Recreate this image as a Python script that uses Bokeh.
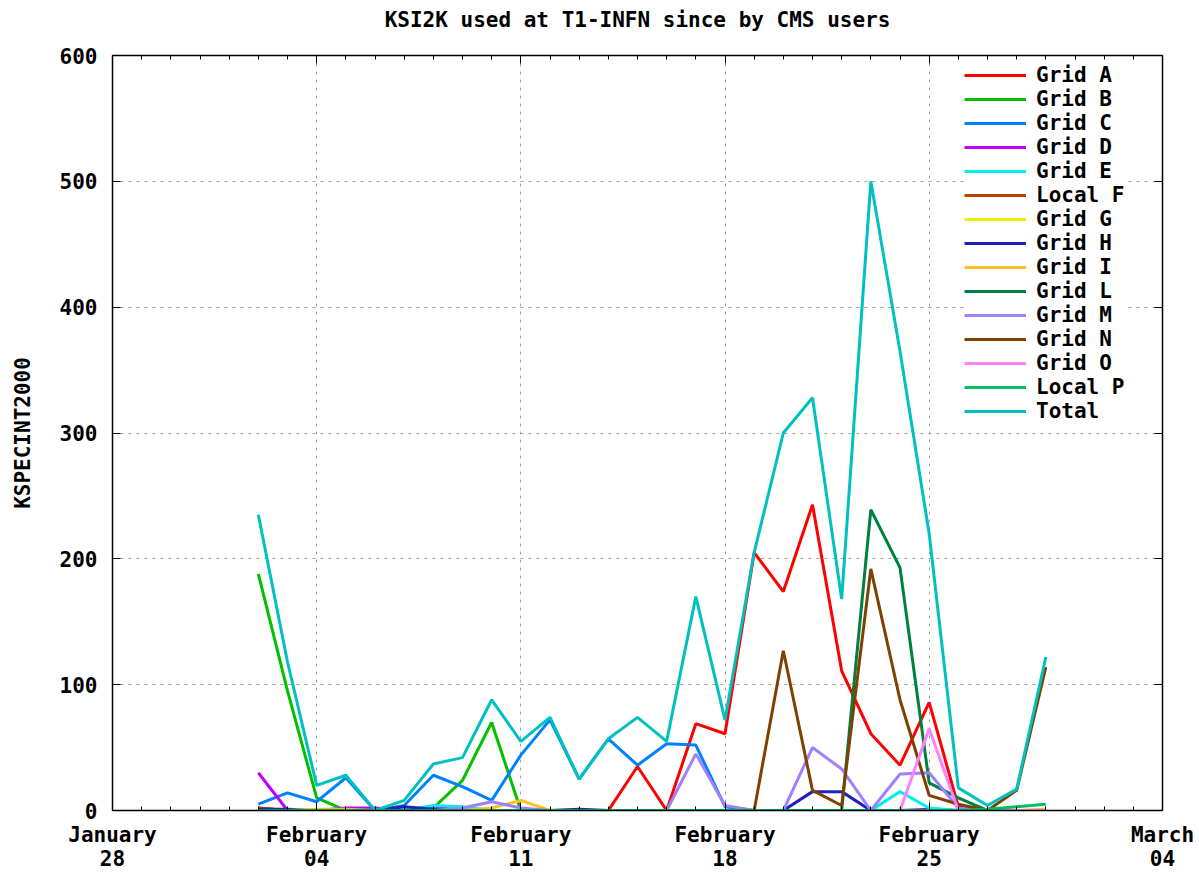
import pandas as pd
from bokeh.plotting import figure
from bokeh.models import (FixedTicker, DatetimeAxis, LinearAxis, DatetimeTickFormatter,
                          Legend, LegendItem, Range1d)
from bokeh.embed import file_html
from bokeh.resources import INLINE

# ---------------- data ----------------
dates = ["2008-02-02", "2008-02-03", "2008-02-04", "2008-02-05", "2008-02-06", "2008-02-07",
         "2008-02-08", "2008-02-09", "2008-02-10", "2008-02-11", "2008-02-12", "2008-02-13",
         "2008-02-14", "2008-02-15", "2008-02-16", "2008-02-17", "2008-02-18", "2008-02-19",
         "2008-02-20", "2008-02-21", "2008-02-22", "2008-02-23", "2008-02-24", "2008-02-25",
         "2008-02-26", "2008-02-27", "2008-02-28", "2008-02-29"]

grid_a = [2, 0, 0, 0, 0, 0, 0, 0, 0, 0, 0, 0, 0, 35, 0, 69, 61, 205, 174, 243, 111, 61, 36, 86, 3, 0, 0, 0]
grid_b = [188, 95, 10, 0, 0, 0, 2, 24, 70, 0, 0, 0, 0, 0, 0, 0, 0, 0, 0, 0, 0, 0, 0, 0, 0, 0, 0, 0]
grid_c = [5, 14, 7, 26, 0, 4, 28, 19, 8, 44, 72, 25, 57, 36, 53, 52, 3, 0, 0, 0, 0, 0, 0, 0, 0, 0, 0, 0]
grid_d = [30, 0, 0, 2, 2, 0, 3, 0, 0, 0, 0, 0, 0, 0, 0, 0, 0, 0, 0, 0, 0, 0, 0, 1, 0, 0, 0, 0]
grid_e = [0, 0, 0, 0, 0, 0, 4, 3, 0, 0, 0, 0, 0, 0, 0, 0, 0, 0, 0, 0, 0, 0, 15, 2, 0, 0, 0, 0]
local_f = [2, 0, 0, 0, 0, 0, 0, 0, 0, 0, 0, 0, 0, 0, 0, 0, 0, 0, 0, 0, 0, 0, 0, 0, 0, 0, 0, 0]
grid_g = [0, 0, 0, 0, 0, 0, 0, 0, 0, 0, 0, 0, 0, 0, 0, 0, 0, 0, 0, 0, 0, 0, 0, 0, 0, 0, 0, 0]
grid_h = [1, 1, 0, 0, 0, 3, 1, 0, 0, 0, 0, 1, 0, 0, 0, 0, 0, 0, 0, 15, 15, 0, 0, 0, 0, 0, 0, 0]
grid_i = [0, 0, 1, 1, 0, 0, 0, 0, 2, 8, 0, 0, 0, 0, 0, 0, 0, 0, 0, 0, 0, 0, 0, 0, 0, 0, 0, 1]
grid_l = [0, 0, 0, 0, 0, 0, 0, 0, 0, 0, 0, 0, 0, 0, 0, 0, 0, 0, 0, 0, 0, 239, 193, 22, 10, 0, 0, 0]
grid_m = [0, 0, 0, 0, 0, 0, 0, 2, 7, 2, 0, 0, 0, 0, 0, 45, 4, 0, 0, 50, 33, 0, 29, 30, 2, 0, 0, 0]
grid_n = [0, 0, 0, 0, 0, 0, 0, 0, 0, 0, 0, 0, 0, 0, 0, 0, 0, 0, 127, 16, 4, 192, 88, 12, 5, 0, 16, 114]
grid_o = [0, 0, 0, 0, 0, 0, 0, 0, 0, 0, 0, 0, 0, 0, 0, 0, 0, 0, 0, 0, 0, 0, 0, 65, 0, 0, 0, 0]
local_p = [0, 0, 0, 0, 0, 0, 0, 0, 0, 0, 0, 0, 0, 0, 0, 0, 0, 0, 0, 0, 0, 0, 0, 0, 0, 1, 3, 5]
total = [235, 118, 20, 28, 0, 8, 37, 42, 88, 55, 74, 25, 57, 74, 55, 170, 72, 205, 300, 328, 168,
         500, 365, 220, 18, 4, 17, 122]

series_names = ["Grid A", "Grid B", "Grid C", "Grid D", "Grid E", "Local F", "Grid G", "Grid H",
                "Grid I", "Grid L", "Grid M", "Grid N", "Grid O", "Local P", "Total"]
series_values = [grid_a, grid_b, grid_c, grid_d, grid_e, local_f, grid_g, grid_h,
                 grid_i, grid_l, grid_m, grid_n, grid_o, local_p, total]
series_colors = ["#ff0000", "#00c000", "#0080ff", "#c000ff", "#00eeee", "#c04000", "#eeee00",
                 "#2020c0", "#ffc020", "#008040", "#a080ff", "#804000", "#ff80ff", "#00c060",
                 "#00c0c0"]

week_ticks = ["2008-01-28", "2008-02-04", "2008-02-11", "2008-02-18", "2008-02-25", "2008-03-04"]
y_ticks = [0, 100, 200, 300, 400, 500, 600]

title_text = "KSI2K used at T1-INFN since by CMS users"
y_label = "KSPECINT2000"

# ---------------- plot ----------------
FONT = "DejaVu Sans Mono"
FS = "21px"

x_dates = pd.to_datetime(dates)
major_ms = [pd.Timestamp(s).value // 10**6 for s in week_ticks]
minor_ms = [d.value // 10**6 for d in pd.date_range(week_ticks[0], week_ticks[-1], freq="D")]

p = figure(width=1199, height=873, x_axis_type="datetime",
           x_range=Range1d(pd.Timestamp(week_ticks[0]), pd.Timestamp(week_ticks[-1])),
           y_range=Range1d(y_ticks[0], y_ticks[-1]),
           output_backend="svg", toolbar_location=None,
           min_border_left=112, min_border_right=37, min_border_top=55, min_border_bottom=61)

p.outline_line_color = "black"
p.background_fill_color = "white"
p.border_fill_color = "white"

# trailing blank line lifts the single visible title line towards the top edge
p.title.text = title_text + "\n "
p.title.align = "center"
p.title.text_font = FONT
p.title.text_font_style = "bold"
p.title.text_font_size = FS
p.title.text_color = "black"
p.title.text_line_height = 1.0
p.title.standoff = 0

fmt_str = "%B\n%d"
fmt = DatetimeTickFormatter(microseconds=fmt_str, milliseconds=fmt_str, seconds=fmt_str,
                            minsec=fmt_str, minutes=fmt_str, hourmin=fmt_str, hours=fmt_str,
                            days=fmt_str, months=fmt_str, years=fmt_str,
                            strip_leading_zeros=False)
xticker = FixedTicker(ticks=major_ms, minor_ticks=minor_ms)
yticker = FixedTicker(ticks=y_ticks)


def style_axis(ax):
    ax.axis_line_color = "black"
    ax.axis_line_width = 1.5
    ax.major_tick_in = 8
    ax.major_tick_out = 0
    ax.minor_tick_in = 4
    ax.minor_tick_out = 0
    ax.major_tick_line_color = "black"
    ax.minor_tick_line_color = "black"
    ax.major_label_text_font = FONT
    ax.major_label_text_font_style = "bold"
    ax.major_label_text_color = "black"
    ax.major_label_text_font_size = FS


xb = p.xaxis[0]
xb.ticker = xticker
xb.formatter = fmt
style_axis(xb)
xb.major_label_standoff = 12
xb.major_label_text_line_height = 1.0

yl = p.yaxis[0]
yl.ticker = yticker
style_axis(yl)
yl.minor_tick_line_color = None
yl.major_label_standoff = 15
yl.axis_label = y_label
yl.axis_label_text_font = FONT
yl.axis_label_text_font_style = "bold"
yl.axis_label_text_font_size = FS
yl.axis_label_text_color = "black"
yl.axis_label_standoff = 22

xt = DatetimeAxis(ticker=xticker, formatter=fmt)
style_axis(xt)
xt.major_label_overrides = {t: "" for t in major_ms}
xt.major_label_standoff = 0
p.add_layout(xt, "above")

yr = LinearAxis(ticker=yticker)
style_axis(yr)
yr.minor_tick_line_color = None
yr.major_label_overrides = {t: "" for t in y_ticks}
yr.major_label_standoff = 0
p.add_layout(yr, "right")

for g in (p.xgrid[0], p.ygrid[0]):
    g.grid_line_color = "#a0a0a0"
    g.grid_line_dash = "3 5"
    g.grid_line_width = 1
p.xgrid[0].ticker = xticker
p.ygrid[0].ticker = yticker

items = []
for name, vals, col in zip(series_names, series_values, series_colors):
    r = p.line(x=x_dates, y=vals, line_color=col, line_width=3)
    items.append(LegendItem(label=name, renderers=[r]))

legend = Legend(items=items, location=(852, 387),
                border_line_color=None, background_fill_color="white", background_fill_alpha=1.0,
                label_text_font=FONT, label_text_font_style="bold", label_text_font_size=FS,
                label_text_color="black",
                glyph_width=62, glyph_height=24, label_height=24, spacing=0, padding=4,
                margin=0, label_standoff=10)
p.add_layout(legend)

open("out.html", "w").write(file_html(p, INLINE))
